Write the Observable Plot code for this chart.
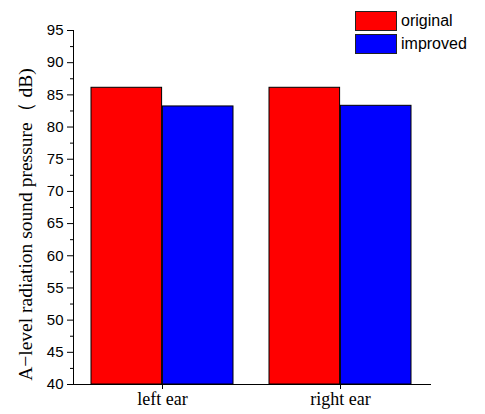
<!DOCTYPE html>
<html>
<head>
<meta charset="utf-8">
<script src="https://cdn.jsdelivr.net/npm/d3@7"></script>
<script src="https://cdn.jsdelivr.net/npm/@observablehq/plot@0.6"></script>
<style>
  html, body { margin: 0; padding: 0; background: #fff; }
  #chart { position: relative; width: 485px; height: 414px; }
  #legend { position: absolute; left: 355px; top: 9px; font-family: "Liberation Sans", Arial, sans-serif; font-size: 16px; color: #000; }
  #legend .row { display: flex; align-items: center; height: 23px; }
  #legend .sw { width: 40px; height: 18px; border: 1px solid #222; margin-right: 4px; box-sizing: content-box; }
</style>
</head>
<body>
<div id="chart"><div id="legend"></div></div>
<script>
// Ear positions measured and the two headset variants
const ears = ["left ear", "right ear"];
const series = ["original", "improved"];
const original = [86.1, 86.1];
const improved = [83.2, 83.3];
const seriesColors = ["#ff0000", "#0000ff"];
const yMajorTicks = [40, 45, 50, 55, 60, 65, 70, 75, 80, 85, 90, 95];
const yMinorTicks = [42.5, 47.5, 52.5, 57.5, 62.5, 67.5, 72.5, 77.5, 82.5, 87.5, 92.5];
const yLabel = "A\u2212level radiation sound pressure\uff08 dB)";

const values = {original, improved};
const rows = ears.flatMap((ear, i) => series.map((s) => ({ear, series: s, value: values[s][i]})));

const width = 485, height = 414;
const marginLeft = 73, marginRight = 55, marginTop = 30, marginBottom = 30;
const padInner = 0.2, padOuter = 0.1;
// each group's band is split in half: original on the left, improved on the right
const step = (width - marginLeft - marginRight) / (ears.length - padInner + 2 * padOuter);
const half = step * (1 - padInner) / 2;

const sans = "'Liberation Sans', Arial, sans-serif";
const serif = "'Liberation Serif', 'Times New Roman', serif";

const plot = Plot.plot({
  width, height, marginLeft, marginRight, marginTop, marginBottom,
  style: {background: "white", color: "black", overflow: "visible"},
  x: {domain: ears, paddingInner: padInner, paddingOuter: padOuter, axis: null},
  y: {domain: [40, 95], axis: null},
  color: {domain: series, range: seriesColors},
  marks: [
    Plot.barY(rows.filter((d) => d.series === "original"), {
      x: "ear", y1: 40, y2: "value", fill: "series", stroke: "#000", strokeWidth: 1, insetRight: half
    }),
    Plot.barY(rows.filter((d) => d.series === "improved"), {
      x: "ear", y1: 40, y2: "value", fill: "series", stroke: "#000", strokeWidth: 1, insetLeft: half
    }),
    Plot.frame({anchor: "left", stroke: "#000"}),
    Plot.frame({anchor: "bottom", stroke: "#000"}),
    Plot.axisY({ticks: yMajorTicks, tickSize: 6, tickPadding: 4, fontSize: 15, fontFamily: sans, label: null}),
    Plot.axisY({ticks: yMinorTicks, tickSize: 3, tickFormat: () => "", label: null}),
    Plot.axisX({tickSize: 5, tickPadding: 3, fontSize: 18, fontFamily: serif, label: null}),
    Plot.text([yLabel], {
      frameAnchor: "left", rotate: -90, dx: -48, dy: 17, text: (d) => d,
      fontSize: 19.5, fontFamily: serif, textAnchor: "middle", lineAnchor: "middle", fill: "#000"
    })
  ]
});

document.getElementById("chart").prepend(plot);

// Legend drawn from the same color scale
const color = plot.scale("color");
const legend = document.getElementById("legend");
color.domain.forEach((name, i) => {
  const row = document.createElement("div");
  row.className = "row";
  const sw = document.createElement("div");
  sw.className = "sw";
  sw.style.background = color.range[i];
  const label = document.createElement("span");
  label.textContent = name;
  row.append(sw, label);
  legend.append(row);
});
</script>
</body>
</html>
